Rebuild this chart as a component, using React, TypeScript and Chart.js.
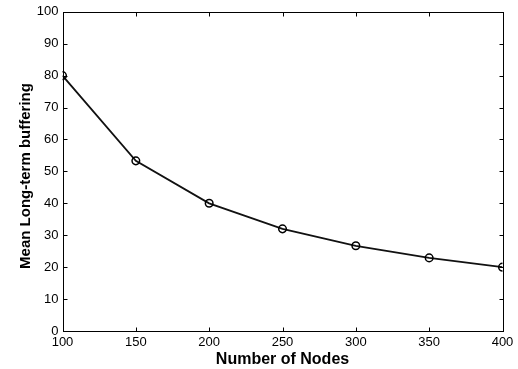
import React, { useEffect, useRef } from "react";
import { Chart, registerables } from "chart.js";

Chart.register(...registerables);

const nodes = [100, 150, 200, 250, 300, 350, 400];
const buffering = [80, 53.3, 40, 32, 26.7, 22.9, 20];
const xTicks = [100, 150, 200, 250, 300, 350, 400];
const yTicks = [0, 10, 20, 30, 40, 50, 60, 70, 80, 90, 100];
const xTitle = "Number of Nodes";
const yTitle = "Mean Long-term buffering";

const FONT = "'Liberation Sans', Arial, sans-serif";

const framePlugin = {
  id: "matlabFrame",
  afterDraw(chart: any) {
    const { ctx, chartArea } = chart;
    const xs = chart.scales.x;
    const ys = chart.scales.y;
    const L = Math.round(chartArea.left) + 0.5;
    const R = Math.round(chartArea.right) + 0.5;
    const T = Math.round(chartArea.top) + 0.5;
    const B = Math.round(chartArea.bottom) + 0.5;
    ctx.save();
    ctx.strokeStyle = "#000";
    ctx.lineWidth = 1;
    ctx.strokeRect(L, T, R - L, B - T);
    const tl = 4;
    ctx.beginPath();
    xTicks.forEach((v) => {
      const px = Math.round(xs.getPixelForValue(v)) + 0.5;
      ctx.moveTo(px, B);
      ctx.lineTo(px, B - tl);
      ctx.moveTo(px, T);
      ctx.lineTo(px, T + tl);
    });
    yTicks.forEach((v) => {
      const py = Math.round(ys.getPixelForValue(v)) + 0.5;
      ctx.moveTo(L, py);
      ctx.lineTo(L + tl, py);
      ctx.moveTo(R, py);
      ctx.lineTo(R - tl, py);
    });
    ctx.stroke();

    ctx.fillStyle = "#000";
    ctx.textAlign = "center";
    ctx.textBaseline = "alphabetic";
    ctx.font = `bold 16px ${FONT}`;
    ctx.fillText(xTitle, (chartArea.left + chartArea.right) / 2, 364);
    ctx.font = `bold 15px ${FONT}`;
    ctx.save();
    ctx.translate(30, 176);
    ctx.rotate(-Math.PI / 2);
    ctx.fillText(yTitle, 0, 0);
    ctx.restore();
    ctx.restore();
  },
};

const bgPlugin = {
  id: "whiteBg",
  beforeDraw(chart: any) {
    const { ctx, width, height } = chart;
    ctx.save();
    ctx.fillStyle = "#fff";
    ctx.fillRect(0, 0, width, height);
    ctx.restore();
  },
};

export default function App() {
  const ref = useRef<HTMLCanvasElement>(null);
  useEffect(() => {
    if (!ref.current) return;
    const chart = new Chart(ref.current, {
      type: "line",
      data: {
        datasets: [
          {
            data: nodes.map((n, i) => ({ x: n, y: buffering[i] })),
            borderColor: "#111",
            borderWidth: 1.8,
            pointStyle: "circle",
            pointRadius: 3.8,
            pointBorderWidth: 1.5,
            pointBorderColor: "#000",
            pointBackgroundColor: "rgba(0,0,0,0)",
            fill: false,
            tension: 0,
          },
        ],
      },
      options: {
        responsive: false,
        animation: false,
        layout: { padding: { left: 0, top: 11, right: 15.5, bottom: 0 } },
        plugins: {
          legend: { display: false },
          tooltip: { enabled: false },
        },
        scales: {
          x: {
            type: "linear",
            min: 100,
            max: 400,
            afterBuildTicks: (s: any) => {
              s.ticks = xTicks.map((v) => ({ value: v }));
            },
            afterFit: (s: any) => {
              s.height = 38;
            },
            grid: { display: false, drawTicks: false },
            border: { display: false },
            ticks: {
              padding: 4,
              color: "#000",
              font: { family: FONT, size: 13 },
              maxRotation: 0,
              autoSkip: false,
            },
          },
          y: {
            type: "linear",
            min: 0,
            max: 100,
            afterBuildTicks: (s: any) => {
              s.ticks = yTicks.map((v) => ({ value: v }));
            },
            afterFit: (s: any) => {
              s.width = 62.5;
            },
            grid: { display: false, drawTicks: false },
            border: { display: false },
            ticks: {
              padding: 4,
              color: "#000",
              font: { family: FONT, size: 13 },
              autoSkip: false,
            },
          },
        },
      },
      plugins: [bgPlugin, framePlugin],
    });
    return () => chart.destroy();
  }, []);
  return (
    <div style={{ position: "fixed", left: 0, top: 0, width: 518, height: 369, background: "#fff" }}>
      <canvas ref={ref} width={518} height={369} style={{ display: "block", width: 518, height: 369 }} />
    </div>
  );
}
